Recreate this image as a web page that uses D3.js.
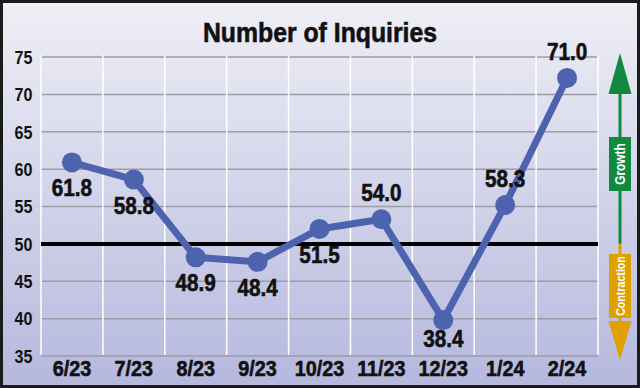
<!DOCTYPE html>
<html>
<head>
<meta charset="utf-8">
<script src="https://cdn.jsdelivr.net/npm/d3@7"></script>
<style>
html, body { margin: 0; padding: 0; }
body { width: 640px; height: 388px; overflow: hidden; }
svg { display: block; font-family: "Liberation Sans", Arial, sans-serif; font-weight: bold; }
.heavy { stroke: #111; stroke-width: 0.6px; }
</style>
</head>
<body>
<svg id="chart" width="640" height="388"></svg>
<script>
const months = ["6/23", "7/23", "8/23", "9/23", "10/23", "11/23", "12/23", "1/24", "2/24"];
// printed values
const labelValues = [61.8, 58.8, 48.9, 48.4, 51.5, 54.0, 38.4, 58.3, 71.0];
// where the points sit in the artwork (not exactly on the printed value)
const plotValues = [60.9, 58.6, 48.2, 47.6, 52.0, 53.3, 39.8, 55.2, 72.2];
const labelsAbove = ["11/23", "1/24", "2/24"];
const yTicks = [35, 40, 45, 50, 55, 60, 65, 70, 75];
const neutralLevel = 50;

const W = 640, H = 388;
const svg = d3.select("#chart");

const defs = svg.append("defs");
const grad = defs.append("linearGradient").
attr("id", "bg").
attr("x1", 0).attr("y1", 0).attr("x2", 0).attr("y2", 1);
grad.append("stop").attr("offset", "0%").attr("stop-color", "#efeff6");
grad.append("stop").attr("offset", "100%").attr("stop-color", "#b5b8dd");

svg.append("rect").
attr("x", 1.5).attr("y", 1.5).
attr("width", W - 3).attr("height", H - 3).
attr("fill", "url(#bg)").
attr("stroke", "#1b1b1b").
attr("stroke-width", 3);

const x = d3.scaleBand().domain(months).range([41, 598]);
const y = d3.scaleLinear().domain([35, 75]).range([356, 57]);

// horizontal grid
svg.append("g").
attr("class", "grid-y").
selectAll("line").
data(yTicks).
join("line").
attr("x1", x.range()[0]).
attr("x2", x.range()[1]).
attr("y1", d => y(d)).
attr("y2", d => y(d)).
attr("stroke", "#9c9ca6").
attr("stroke-width", 1.5);

// vertical grid at band edges
const edges = months.map(m => x(m)).concat([x.range()[1]]);
svg.append("g").
attr("class", "grid-x").
selectAll("line").
data(edges).
join("line").
attr("x1", d => d).
attr("x2", d => d).
attr("y1", y(75) - 2).
attr("y2", y(35) - 1).
attr("stroke", "#ffffff").
attr("stroke-width", 1.5);

// 50 line
svg.append("line").
attr("x1", x.range()[0]).
attr("x2", x.range()[1]).
attr("y1", y(neutralLevel)).
attr("y2", y(neutralLevel)).
attr("stroke", "#000").
attr("stroke-width", 4);

// y axis labels
svg.append("g").
attr("transform", "translate(32.5,0)").
call(d3.axisLeft(y).tickValues(yTicks).tickSize(0).tickPadding(0)).
call(g => g.select(".domain").remove()).
call(g => g.selectAll("text").
attr("fill", "#111").
attr("font-family", null).
attr("dy", "0.36em").
attr("transform", "scale(0.92,1)").
style("font-size", "17.5px").
style("font-weight", "bold"));

// x axis labels
svg.append("g").
attr("transform", "translate(0,360)").
call(d3.axisBottom(x).tickSize(0).tickPadding(0)).
call(g => g.select(".domain").remove()).
call(g => g.selectAll("text").
attr("fill", "#111").
attr("class", "heavy").
attr("font-family", null).
attr("dy", "0.71em").
attr("transform", "scale(0.9,1)").
style("font-size", "22px").
style("font-weight", "bold"));

// title
svg.append("text").
attr("class", "heavy").
attr("transform", "translate(320,42) scale(0.87,1)").
attr("text-anchor", "middle").
style("font-size", "28.5px").
attr("fill", "#111").
text("Number of Inquiries");

// series
const pts = months.map((m, i) => ({ m, v: plotValues[i], label: labelValues[i] }));
const cx = d => x(d.m) + x.bandwidth() / 2;

svg.append("path").
datum(pts).
attr("fill", "none").
attr("stroke", "#4d63ae").
attr("stroke-width", 7).
attr("stroke-linejoin", "round").
attr("d", d3.line().x(cx).y(d => y(d.v)));

svg.append("g").
selectAll("circle").
data(pts).
join("circle").
attr("cx", cx).
attr("cy", d => y(d.v)).
attr("r", 10).
attr("fill", "#4d63ae");

svg.append("g").
selectAll("text").
data(pts).
join("text").
attr("class", "heavy").
attr("transform", d => {
    const ly = labelsAbove.includes(d.m) ?
    y(d.v) - 18 :
    Math.min(y(d.v) + 34, y(35) - 9);
    return `translate(${cx(d)},${ly}) scale(0.9,1)`;
}).
attr("text-anchor", "middle").
style("font-size", "23px").
attr("fill", "#111").
text(d => d3.format(".1f")(d.label));

// growth / contraction arrow
const ax = 620;
const green = "#118a3f", orange = "#e0a100";
const arrow = svg.append("g").attr("class", "arrow");

arrow.append("line").
attr("x1", ax).attr("x2", ax).
attr("y1", 90).attr("y2", y(neutralLevel)).
attr("stroke", green).attr("stroke-width", 3);
arrow.append("path").
attr("d", `M${ax},53 L${ax + 11.5},94 L${ax - 11.5},94 Z`).
attr("fill", green);
arrow.append("rect").
attr("x", ax - 11).attr("y", 137).
attr("width", 22).attr("height", 54).
attr("fill", green);
arrow.append("text").
attr("transform", `translate(${ax + 5},164) rotate(-90) scale(0.85,1)`).
attr("text-anchor", "middle").
style("font-size", "14px").
attr("fill", "#fff").
text("Growth");

arrow.append("line").
attr("x1", ax).attr("x2", ax).
attr("y1", y(neutralLevel)).attr("y2", 324).
attr("stroke", orange).attr("stroke-width", 3);
arrow.append("path").
attr("d", `M${ax - 11.5},321 L${ax + 11.5},321 L${ax},360 Z`).
attr("fill", orange);
arrow.append("rect").
attr("x", ax - 11).attr("y", 254).
attr("width", 22).attr("height", 64).
attr("fill", orange);
arrow.append("text").
attr("transform", `translate(${ax + 4.5},286) rotate(-90) scale(0.82,1)`).
attr("text-anchor", "middle").
style("font-size", "13px").
attr("fill", "#fff").
text("Contraction");
</script>
</body>
</html>
